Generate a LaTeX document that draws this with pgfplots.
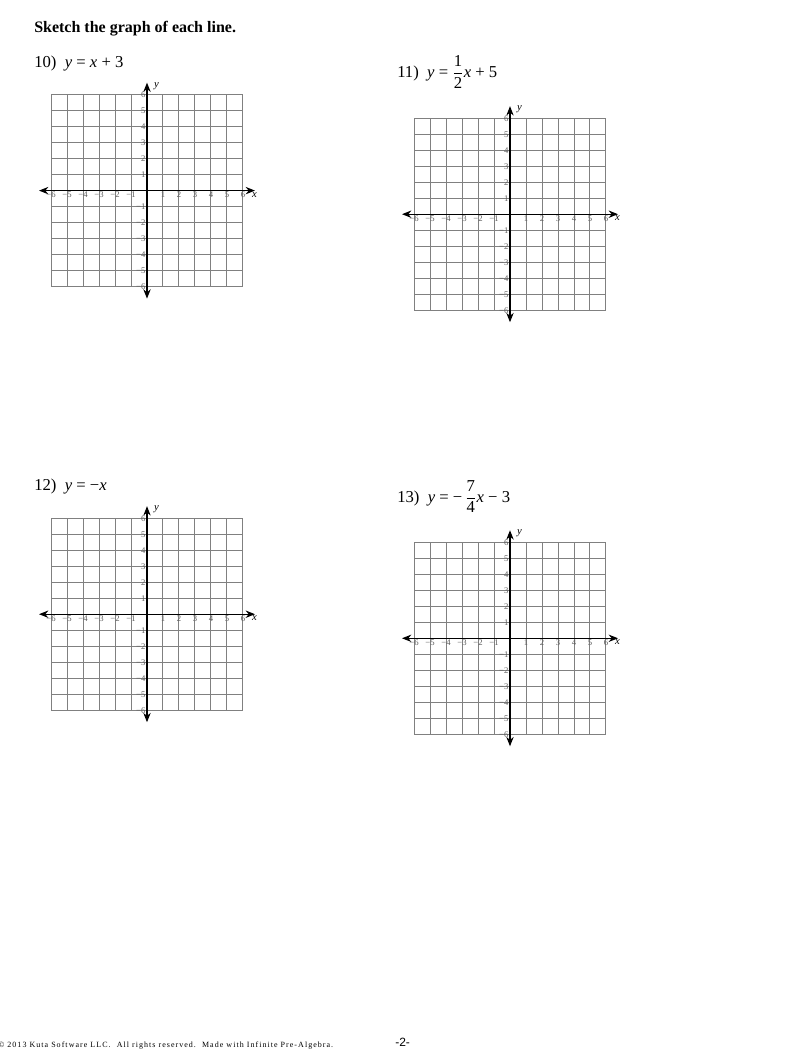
\documentclass[border=0pt]{standalone}
\usepackage{fontspec}
\setmainfont{Liberation Serif}
\newfontfamily\footsans{Liberation Sans}
\usepackage{pgfplots}
\pgfplotsset{compat=1.18}
\usetikzlibrary{arrows.meta}

\definecolor{gridgray}{RGB}{128,128,128}
\definecolor{labelgray}{RGB}{95,95,95}

% one blank 12x12 coordinate grid, as on the worksheet
\pgfplotsset{
  kuta grid/.style={
    width=144pt, height=144pt, scale only axis,
    anchor=center,
    xmin=-6, xmax=6, ymin=-6, ymax=6,
    axis lines=middle,
    every inner x axis line/.append style={line width=0.9pt, black,
      {Stealth[length=7pt,width=5.5pt]}-{Stealth[length=7pt,width=5.5pt]},
      shorten <=-9pt, shorten >=-9pt},
    every inner y axis line/.append style={line width=0.9pt, black,
      {Stealth[length=7pt,width=5.5pt]}-{Stealth[length=7pt,width=5.5pt]},
      shorten <=-9pt, shorten >=-9pt},
    grid=major,
    major grid style={gridgray, line width=0.75pt},
    major tick length=0pt,
    xtick={-6,...,6}, ytick={-6,...,6},
    xticklabels={−6,−5,−4,−3,−2,−1,{},1,2,3,4,5,6},
    yticklabels={−6,−5,−4,−3,−2,−1,{},1,2,3,4,5,6},
    ticklabel style={font=\fontsize{6.5}{7}\selectfont, text=labelgray, inner sep=1pt},
    xlabel={\textit{x}}, ylabel={\textit{y}},
    every axis x label/.style={at={(axis description cs:1.06,0.5)}, anchor=north,
      font=\fontsize{8}{9}\selectfont, inner sep=1pt},
    every axis y label/.style={at={(axis description cs:0.55,1.045)}, anchor=center,
      font=\fontsize{8}{9}\selectfont, inner sep=1pt},
  }
}

\begin{document}
\begin{tikzpicture}
\useasboundingbox[fill=white] (0pt,0pt) rectangle (606pt,-788.25pt);

\node[anchor=base west, inner sep=0, font=\fontsize{12}{14}\selectfont\bfseries]
  at (25.5pt,-24pt) {Sketch the graph of each line.};

% problem statements
\node[anchor=base west, inner sep=0, font=\fontsize{12.5}{14}\selectfont]
  at (25.5pt,-50.25pt) {10)\enspace\textit{y} = \textit{x} + 3};
\node[anchor=base west, inner sep=0, font=\fontsize{12.5}{14}\selectfont]
  at (297.75pt,-58.2pt) {11)\enspace\textit{y} = $\displaystyle\frac{\mbox{1}}{\mbox{2}}$\textit{x} + 5};
\node[anchor=base west, inner sep=0, font=\fontsize{12.5}{14}\selectfont]
  at (25.5pt,-367.9pt) {12)\enspace\textit{y} = −\textit{x}};
\node[anchor=base west, inner sep=0, font=\fontsize{12.5}{14}\selectfont]
  at (297.75pt,-376.5pt) {13)\enspace\textit{y} = −\,$\displaystyle\frac{\mbox{7}}{\mbox{4}}$\textit{x} − 3};

% grids
\begin{axis}[kuta grid, at={(110.25pt,-142.95pt)}]
\end{axis}
\begin{axis}[kuta grid, at={(382.5pt,-160.65pt)}]
\end{axis}
\begin{axis}[kuta grid, at={(110.25pt,-460.65pt)}]
\end{axis}
\begin{axis}[kuta grid, at={(382.5pt,-478.7pt)}]
\end{axis}

% footer
\node[anchor=base west, inner sep=0, font=\fontsize{6}{7}\selectfont\addfontfeature{LetterSpace=13}]
  at (-1.5pt,-785.25pt) {© 2013 Kuta Software LLC.\ \ All rights reserved.\ \ Made with Infinite Pre-Algebra.};
\node[anchor=base west, inner sep=0, font=\footsans\fontsize{9}{10}\selectfont]
  at (296.25pt,-784.5pt) {-2-};
\end{tikzpicture}
\end{document}
